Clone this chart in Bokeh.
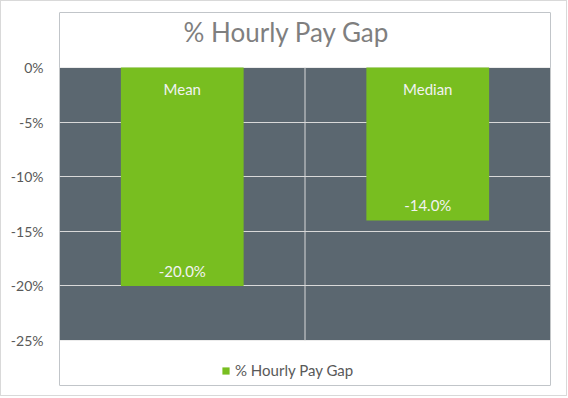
from bokeh.plotting import figure
from bokeh.models import (FactorRange, Range1d, FixedTicker, PrintfTickFormatter,
                          Legend, LegendItem, ColumnDataSource, Label, BoxAnnotation)
from bokeh.core.properties import value
from bokeh.embed import file_html
from bokeh.resources import INLINE

# ---- data ----
categories = ["Mean", "Median"]
pay_gap = [-20.0, -14.0]
y_ticks = [-25, -20, -15, -10, -5, 0]
title_text = "% Hourly Pay Gap"
series_name = "% Hourly Pay Gap"

FONT = "Lato"
BG = "#5B6770"
GREEN = "#78BE20"
GRID = "#D9D9D9"

# layout (pixels): plot area is 273 px tall for the value span; frame extends
# above (title) and below (legend) the plot area
AREA_H = 273
EXTRA_TOP = 55
EXTRA_BOTTOM = 45
y_lo, y_hi = min(y_ticks), max(y_ticks)
ppu = AREA_H / (y_hi - y_lo)

src = ColumnDataSource(dict(
    cat=categories,
    val=pay_gap,
    zero=[0] * len(categories),
    lab=[f"{v:.1f}%" for v in pay_gap],
))

# category boundaries (synthetic factor coordinates) for vertical gridlines
bounds_x = list(range(len(categories) + 1))
div_src = ColumnDataSource(dict(
    x=bounds_x,
    y0=[y_lo] * len(bounds_x),
    y1=[y_hi] * len(bounds_x),
))

p = figure(frame_width=491, frame_height=AREA_H + EXTRA_TOP + EXTRA_BOTTOM,
           x_range=FactorRange(*categories, range_padding=0),
           y_range=Range1d(y_lo - EXTRA_BOTTOM / ppu, y_hi + EXTRA_TOP / ppu),
           output_backend="svg", toolbar_location=None,
           min_border_left=58, min_border_right=16, min_border_top=11, min_border_bottom=10)

p.styles = {"border": "1px solid #D9D9D9"}
p.background_fill_color = BG
p.border_fill_color = "white"
p.outline_line_color = None

# white-out outside the plot area (above the top tick and below the bottom tick)
p.add_layout(BoxAnnotation(bottom=y_hi, fill_color="white", fill_alpha=1,
                           line_color=None, level="underlay"))
p.add_layout(BoxAnnotation(top=y_lo, fill_color="white", fill_alpha=1,
                           line_color=None, level="underlay"))

# vertical gridlines at category boundaries
p.segment(x0="x", y0="y0", x1="x", y1="y1", source=div_src,
          line_color=GRID, line_width=1)

bars = p.vbar(x="cat", top="val", bottom=0, width=0.5, source=src,
              fill_color=GREEN, line_color=None)

# category labels at the top of each bar
p.text(x="cat", y="zero", text="cat", source=src, text_color="#F2F2F2",
       text_font=value(FONT), text_font_size="15px", text_align="center",
       text_baseline="middle", y_offset=21)
# value labels near bar ends
p.text(x="cat", y="val", text="lab", source=src, text_color="#F2F2F2",
       text_font=value(FONT), text_font_size="15px", text_align="center",
       text_baseline="middle", y_offset=-15)

# axes
p.xaxis.visible = False
p.xgrid.visible = False

p.yaxis.ticker = FixedTicker(ticks=y_ticks)
p.yaxis.formatter = PrintfTickFormatter(format="%d%%")
p.yaxis.axis_line_color = None
p.yaxis.major_tick_line_color = None
p.yaxis.minor_tick_line_color = None
p.yaxis.major_tick_out = 0
p.yaxis.major_tick_in = 0
p.yaxis.major_label_standoff = 16
p.yaxis.major_label_text_font = FONT
p.yaxis.major_label_text_font_size = "14px"
p.yaxis.major_label_text_color = "#595959"

p.ygrid.ticker = FixedTicker(ticks=y_ticks)
p.ygrid.grid_line_color = GRID
p.ygrid.grid_line_width = 1

# title
frame_h = AREA_H + EXTRA_TOP + EXTRA_BOTTOM
p.add_layout(Label(x=124, y=frame_h - 19, x_units="screen", y_units="screen",
                   text=title_text, text_font=FONT, text_font_size="26px",
                   text_color="#7F7F7F", text_align="left", text_baseline="alphabetic"))

# legend
legend = Legend(items=[LegendItem(label=series_name, renderers=[bars])],
                location=(162, 6), orientation="horizontal",
                glyph_width=9, glyph_height=9, label_standoff=5, label_height=18,
                padding=0, margin=0, spacing=0,
                border_line_color=None, background_fill_alpha=0,
                label_text_font=FONT, label_text_font_size="15px",
                label_text_color="#595959")
p.add_layout(legend, "center")

open("out.html", "w").write(file_html(p, INLINE))
